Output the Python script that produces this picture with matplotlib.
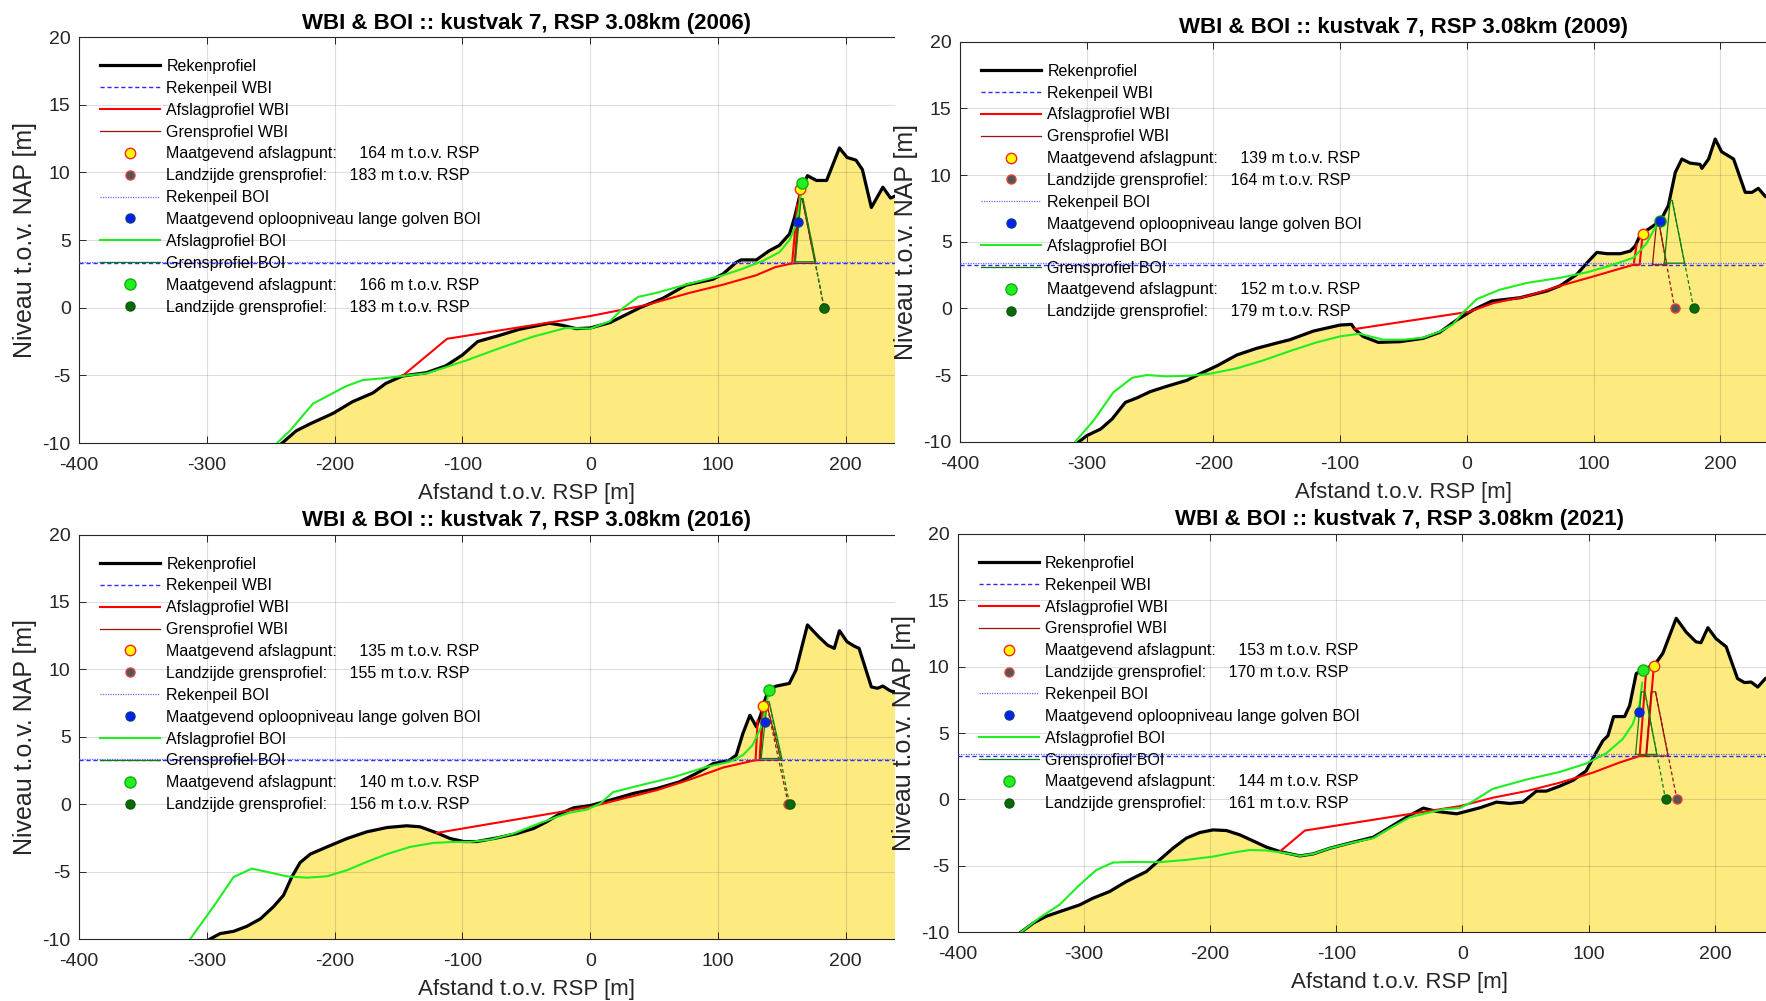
import matplotlib
matplotlib.use('Agg')
import matplotlib.pyplot as plt
from matplotlib.patches import Rectangle

plt.rcParams['font.family'] = ['Liberation Sans', 'DejaVu Sans']
plt.rcParams['axes.unicode_minus'] = False

W, H = 1766, 1001

years = [2006, 2009, 2016, 2021]

# rekenpeil (m NAP)
rp_wbi = [3.27, 3.27, 3.27, 3.27]
rp_boi = [3.39, 3.39, 3.39, 3.39]

# legend numbers (m t.o.v. RSP)
afslag_wbi = [164, 139, 135, 153]
land_wbi = [183, 164, 155, 170]
afslag_boi = [166, 152, 140, 144]
land_boi = [183, 179, 156, 161]

# ---------- 2006 ----------
prof_x_2006 = [-241, -230, -219.5, -201, -186, -170, -160, -147, -128, -113, -100, -88, -71, -55.5, -32, -22,
               -11, 0, 15.6, 39, 57, 75, 96, 104, 114, 118, 130, 140, 148, 156, 160, 165, 170, 177, 185, 195,
               201, 208, 213, 220, 229, 235, 245]
prof_z_2006 = [-10, -9.1, -8.6, -7.8, -6.95, -6.3, -5.6, -5.05, -4.8, -4.3, -3.5, -2.5, -2.05, -1.6, -1.15, -1.3,
               -1.55, -1.5, -1.1, 0.0, 0.7, 1.67, 2.1, 2.5, 3.33, 3.53, 3.53, 4.2, 4.6, 5.45, 6.7, 8.7, 9.75, 9.4,
               9.4, 11.8, 11.1, 10.9, 10.2, 7.4, 8.9, 8.1, 8.5]
wbi_x_2006 = [-147, -112, 0, 44, 78, 104, 130, 145, 158, 162]
wbi_z_2006 = [-5.05, -2.3, -0.62, 0.2, 1.1, 1.7, 2.4, 3.0, 3.27, 7.6]
wbi_ex_x_2006 = [158, 160, 164]
wbi_ex_z_2006 = [3.27, 3.27, 8.8]
gp_wbi_x_2006 = [160, 164.5, 166, 176, 160]
gp_wbi_z_2006 = [3.27, 8.0, 8.0, 3.27, 3.27]
boi_x_2006 = [-245, -235, -217, -191, -178, -160, -147, -128, -113, -97, -71, -45, -19, 0, 15.6, 26, 37.7, 52, 75,
              104, 117, 135, 148, 156, 160.5, 163.6, 165.7]
boi_z_2006 = [-10, -9.1, -7.1, -5.8, -5.35, -5.2, -5.05, -4.85, -4.4, -3.9, -3.0, -2.15, -1.5, -1.55, -1.0, 0, 0.8,
              1.1, 1.7, 2.4, 2.8, 3.45, 4.1, 5.0, 6.0, 7.4, 9.2]
gp_boi_x_2006 = [160.5, 165, 166.5, 176.5, 160.5]
gp_boi_z_2006 = [3.39, 8.06, 8.06, 3.39, 3.39]
pt_afslag_wbi_2006 = (164.4, 8.8)
pt_oploop_2006 = (162.3, 6.3)
pt_afslag_boi_2006 = (165.7, 9.2)

# ---------- 2009 ----------
prof_x_2009 = [-306, -300, -289, -280, -269.5, -260, -250, -237, -221, -210.5, -197, -181.6, -166, -150, -139.6,
               -121, -100, -91, -88.5, -82, -70, -53, -34.6, -21.5, -8.4, 5.3, 19.7, 42, 63, 73.7, 86.8, 94.7,
               102.6, 110.5, 121, 129, 133, 137, 145, 152.6, 159, 164.5, 169.7, 176, 184, 185.5, 190.8, 196, 201,
               210.5, 219.7, 225, 230, 235.5, 245]
prof_z_2009 = [-10, -9.55, -9.05, -8.3, -7.05, -6.7, -6.25, -5.85, -5.4, -4.9, -4.3, -3.5, -3.0, -2.6, -2.35, -1.7,
               -1.25, -1.2, -1.55, -2.1, -2.55, -2.5, -2.25, -1.8, -0.9, -0.1, 0.55, 0.8, 1.3, 1.7, 2.55, 3.4, 4.2,
               4.1, 4.1, 4.3, 4.7, 5.55, 6.05, 6.55, 7.7, 10.2, 11.2, 10.9, 10.8, 10.5, 11.2, 12.7, 11.75, 11.2,
               8.7, 8.7, 9.0, 8.4, 8.0]
wbi_x_2009 = [-88.5, 2, 21, 47, 74, 100, 118, 131.6, 134]
wbi_z_2009 = [-1.55, -0.25, 0.4, 0.9, 1.7, 2.4, 2.9, 3.27, 4.8]
wbi_ex_x_2009 = [131.6, 136.4, 138.7]
wbi_ex_z_2009 = [3.27, 3.27, 5.6]
gp_wbi_x_2009 = [146.5, 149.5, 152, 157.8, 146.5]
gp_wbi_z_2009 = [3.27, 6.2, 6.2, 3.27, 3.27]
boi_x_2009 = [-309, -294.5, -279, -264, -252.5, -237, -218, -202.6, -181.6, -160.6, -139.6, -118.6, -100, -84.5,
              -76.6, -66, -50, -34.6, -21.5, -11, -3, 7.9, 26, 47, 74, 94.7, 113, 131.6, 142, 150, 152.6]
boi_z_2009 = [-10, -8.4, -6.3, -5.2, -5.0, -5.1, -5.05, -4.9, -4.5, -3.9, -3.2, -2.55, -2.1, -1.9, -2.1, -2.35,
              -2.35, -2.2, -1.75, -1.2, -0.3, 0.7, 1.4, 1.9, 2.3, 2.7, 3.2, 3.8, 4.9, 6.3, 6.55]
gp_boi_x_2009 = [155.8, 160.5, 162, 171.8, 155.8]
gp_boi_z_2009 = [3.39, 8.1, 8.1, 3.39, 3.39]
pt_afslag_wbi_2009 = (138.7, 5.6)
pt_oploop_2009 = (152.6, 6.55)
pt_afslag_boi_2009 = (152.6, 6.55)

# ---------- 2016 ----------
prof_x_2016 = [-297.4, -289.6, -279, -268.7, -258, -247.8, -240, -233.5, -227, -219, -206, -190.4, -174.8, -159,
               -143.5, -133, -120, -109.5, -99, -88.7, -73, -57.4, -44.3, -34, -23.5, -13, 0, 15.6, 33.8, 52, 70,
               83, 96, 109, 114.3, 119.5, 125, 130, 133.8, 135, 139.7, 145.5, 155.8, 161, 170, 179, 185.7, 191,
               195, 201, 206.5, 210.4, 220, 224.7, 229, 235, 245]
prof_z_2016 = [-10, -9.6, -9.43, -9.06, -8.5, -7.6, -6.76, -5.4, -4.33, -3.7, -3.17, -2.55, -2.05, -1.73, -1.6,
               -1.68, -2.13, -2.55, -2.77, -2.77, -2.5, -2.18, -1.8, -1.3, -0.7, -0.27, -0.1, 0.3, 0.8, 1.16, 1.66,
               2.28, 3.0, 3.27, 3.64, 5.25, 6.6, 5.74, 6.73, 7.3, 8.5, 8.76, 8.96, 9.95, 13.3, 12.4, 11.8, 11.56,
               12.87, 12.05, 11.73, 11.56, 8.7, 8.6, 8.76, 8.4, 8.2]
wbi_x_2016 = [-120, 0, 26, 52, 78, 104, 117, 129.4, 131]
wbi_z_2016 = [-2.13, -0.2, 0.42, 1.04, 1.83, 2.72, 3.0, 3.27, 6.2]
wbi_ex_x_2016 = [129.4, 132.5, 135]
wbi_ex_z_2016 = [3.27, 3.27, 7.3]
gp_wbi_x_2016 = [133, 136.5, 137.7, 149.3, 133]
gp_wbi_z_2016 = [3.27, 7.6, 7.6, 3.27, 3.27]
boi_x_2016 = [-313, -294.8, -279, -264.8, -253, -237.4, -221.7, -206, -190.4, -174.8, -159, -141, -122.6, -107,
              -94, -78, -60, -39, -26, -15.6, -2.6, 7.8, 18, 39, 65, 91, 109, 119.5, 127, 133.8, 137.7, 139.7]
boi_z_2016 = [-10, -7.6, -5.4, -4.78, -5.02, -5.35, -5.45, -5.35, -4.9, -4.28, -3.7, -3.17, -2.87, -2.8, -2.8,
              -2.62, -2.18, -1.39, -0.94, -0.62, -0.4, 0.05, 0.9, 1.4, 2.0, 2.77, 3.14, 3.64, 4.38, 5.74, 7.2, 8.47]
gp_boi_x_2016 = [133.8, 138.5, 140, 150, 133.8]
gp_boi_z_2016 = [3.39, 7.6, 7.6, 3.39, 3.39]
pt_afslag_wbi_2016 = (135, 7.3)
pt_oploop_2016 = (136.4, 6.1)
pt_afslag_boi_2016 = (139.7, 8.5)

# ---------- 2021 ----------
prof_x_2021 = [-350, -340, -330, -319, -303.4, -293, -279.6, -266.4, -250.5, -240, -229.4, -218.8, -208.2, -197.6,
               -187, -176.5, -165.9, -155.3, -144.7, -128.8, -118.3, -105, -91.8, -70.6, -57.4, -44.2, -31, -20.4,
               -4.5, 13.7, 27, 37.5, 48, 58.6, 66.5, 77, 87.6, 98, 106, 111.3, 115.3, 119.8, 128.5, 132.5, 137.7,
               143, 152, 158.8, 169.4, 177.3, 185, 189, 194.5, 201, 209, 218, 223.5, 228.8, 234, 240, 245]
prof_z_2021 = [-10, -9.3, -8.8, -8.44, -7.94, -7.44, -6.93, -6.18, -5.43, -4.55, -3.67, -2.91, -2.49, -2.29, -2.34,
               -2.66, -3.12, -3.59, -3.92, -4.25, -4.1, -3.67, -3.34, -2.84, -2.09, -1.33, -0.65, -0.9, -1.08,
               -0.63, -0.2, -0.3, -0.2, 0.63, 0.63, 1.0, 1.44, 2.15, 3.54, 4.42, 4.8, 6.24, 6.24, 7.07, 9.47, 9.8,
               10.1, 11.0, 13.64, 12.6, 11.87, 11.8, 12.93, 12.1, 11.5, 9.1, 8.8, 8.84, 8.46, 9.1, 9.3]
wbi_x_2021 = [-144.7, -124.9, -2, 24, 50.7, 77, 103.4, 124.5, 140.4, 145.6]
wbi_z_2021 = [-3.92, -2.34, -0.5, 0.13, 0.63, 1.26, 2.02, 2.78, 3.27, 9.7]
wbi_ex_x_2021 = [140.4, 145.6, 151.7]
wbi_ex_z_2021 = [3.27, 3.27, 10.05]
gp_wbi_x_2021 = [145.6, 149.6, 153, 163, 145.6]
gp_wbi_z_2021 = [3.27, 8.1, 8.1, 3.27, 3.27]
boi_x_2021 = [-350, -335, -319, -303.4, -290, -277, -261, -240, -218.8, -197.6, -181.7, -168.5, -155.3, -139.4,
              -128.8, -118.3, -105, -89, -70.6, -57.4, -41.5, -28.3, -15, -2, 8.4, 24, 50.7, 77, 98, 114, 127,
              135, 140.4, 142.5]
boi_z_2021 = [-10, -8.9, -7.9, -6.43, -5.3, -4.75, -4.7, -4.72, -4.55, -4.3, -4.0, -3.8, -3.84, -4.05, -4.25,
              -4.1, -3.67, -3.29, -2.91, -2.16, -1.33, -1.03, -0.73, -0.65, -0.13, 0.8, 1.5, 2.07, 2.7, 3.48, 4.55,
              5.68, 7.2, 8.8]
gp_boi_x_2021 = [137.2, 141.7, 144.6, 154, 137.2]
gp_boi_z_2021 = [3.39, 8.1, 8.1, 3.39, 3.39]
pt_afslag_wbi_2021 = (151.7, 10.05)
pt_oploop_2021 = (140, 6.57)
pt_afslag_boi_2021 = (143, 9.77)

panels = {
    2006: dict(px=prof_x_2006, pz=prof_z_2006, wx=wbi_x_2006, wz=wbi_z_2006, ex=wbi_ex_x_2006, ez=wbi_ex_z_2006,
               gwx=gp_wbi_x_2006, gwz=gp_wbi_z_2006, bx=boi_x_2006, bz=boi_z_2006, gbx=gp_boi_x_2006,
               gbz=gp_boi_z_2006, aw=pt_afslag_wbi_2006, op=pt_oploop_2006, ab=pt_afslag_boi_2006),
    2009: dict(px=prof_x_2009, pz=prof_z_2009, wx=wbi_x_2009, wz=wbi_z_2009, ex=wbi_ex_x_2009, ez=wbi_ex_z_2009,
               gwx=gp_wbi_x_2009, gwz=gp_wbi_z_2009, bx=boi_x_2009, bz=boi_z_2009, gbx=gp_boi_x_2009,
               gbz=gp_boi_z_2009, aw=pt_afslag_wbi_2009, op=pt_oploop_2009, ab=pt_afslag_boi_2009),
    2016: dict(px=prof_x_2016, pz=prof_z_2016, wx=wbi_x_2016, wz=wbi_z_2016, ex=wbi_ex_x_2016, ez=wbi_ex_z_2016,
               gwx=gp_wbi_x_2016, gwz=gp_wbi_z_2016, bx=boi_x_2016, bz=boi_z_2016, gbx=gp_boi_x_2016,
               gbz=gp_boi_z_2016, aw=pt_afslag_wbi_2016, op=pt_oploop_2016, ab=pt_afslag_boi_2016),
    2021: dict(px=prof_x_2021, pz=prof_z_2021, wx=wbi_x_2021, wz=wbi_z_2021, ex=wbi_ex_x_2021, ez=wbi_ex_z_2021,
               gwx=gp_wbi_x_2021, gwz=gp_wbi_z_2021, bx=boi_x_2021, bz=boi_z_2021, gbx=gp_boi_x_2021,
               gbz=gp_boi_z_2021, aw=pt_afslag_wbi_2021, op=pt_oploop_2021, ab=pt_afslag_boi_2021),
}

# axes boxes in pixels: left, right, top, bottom  (xlim -400..300, ylim -10..20)
boxes = [(79, 973.6, 37, 443), (960, 1847, 41.7, 441.7), (79, 973.6, 534.6, 939), (957.7, 1841, 533.8, 932.3)]

yellow = '#fdeb80'
red = '#ff0000'
green = '#1fee1f'
dred = '#9a1010'
dgreen = '#0a800a'
gray = '#262626'

fig = plt.figure(figsize=(W / 100, H / 100), dpi=100)
# the right-hand plots were pasted over the right part of the left-hand ones
fig.add_artist(Rectangle((895 / W, 0), 1 - 895 / W, 1, transform=fig.transFigure,
                         facecolor='white', edgecolor='none', zorder=1))

for i, yr in enumerate(years):
    d = panels[yr]
    l, r, t, b = boxes[i]
    ax = fig.add_axes([l / W, 1 - b / H, (r - l) / W, (b - t) / H])
    ax.set_zorder(0 if i % 2 == 0 else 2)
    ax.set_facecolor('white')

    ax.fill_between(d['px'], d['pz'], -10, color=yellow, lw=0, zorder=1)
    ax.plot(d['px'], d['pz'], color='k', lw=2.3, label='Rekenprofiel', zorder=3)
    ax.axhline(rp_wbi[i], color='#2b2bff', lw=1.0, ls=(0, (3, 2)), label='Rekenpeil WBI', zorder=3)
    ax.plot(d['wx'], d['wz'], color=red, lw=1.5, label='Afslagprofiel WBI', zorder=3)
    ax.plot(d['ex'], d['ez'], color=red, lw=1.5, zorder=3)
    ax.plot(d['gwx'], d['gwz'], color=dred, lw=0.9, label='Grensprofiel WBI', zorder=3)
    ax.plot([d['gwx'][2], land_wbi[i]], [d['gwz'][2], 0], color=dred, lw=0.9, ls=(0, (3, 2)), zorder=3)
    ax.plot(*d['aw'], 'o', ms=7.5, mfc='#ffff00', mec='#ff2020', mew=1.0, ls='none',
            label=f'Maatgevend afslagpunt:     {afslag_wbi[i]} m t.o.v. RSP', zorder=6)
    ax.plot(land_wbi[i], 0, 'o', ms=6.5, mfc='#555555', mec='#e04040', mew=1.0, ls='none',
            label=f'Landzijde grensprofiel:     {land_wbi[i]} m t.o.v. RSP', zorder=5)
    ax.axhline(rp_boi[i], color='#6a6aff', lw=0.9, ls=(0, (1, 1)), label='Rekenpeil BOI', zorder=3)
    ax.plot(*d['op'], 'o', ms=6.5, mfc='#0022ee', mec='#0a3a8a', mew=1.0, ls='none',
            label='Maatgevend oploopniveau lange golven BOI', zorder=7)
    ax.plot(d['bx'], d['bz'], color=green, lw=1.5, label='Afslagprofiel BOI', zorder=4)
    ax.plot(d['gbx'], d['gbz'], color=dgreen, lw=0.9, label='Grensprofiel BOI', zorder=4)
    ax.plot([d['gbx'][2], land_boi[i]], [d['gbz'][2], 0], color=dgreen, lw=0.9, ls=(0, (3, 2)), zorder=4)
    ax.plot(*d['ab'], 'o', ms=8, mfc='#22ee22', mec='#10b010', mew=1.0, ls='none',
            label=f'Maatgevend afslagpunt:     {afslag_boi[i]} m t.o.v. RSP', zorder=6)
    ax.plot(land_boi[i], 0, 'o', ms=6.5, mfc='#0a6a0a', mec='#0a5a0a', mew=1.0, ls='none',
            label=f'Landzijde grensprofiel:     {land_boi[i]} m t.o.v. RSP', zorder=6)

    ax.set_xlim(-400, 300)
    ax.set_ylim(-10, 20)
    ax.set_xticks(range(-400, 201, 100))
    ax.set_yticks(range(-10, 21, 5))
    ax.grid(True, color=gray, alpha=0.15, lw=0.8)
    ax.set_axisbelow('line')
    ax.tick_params(direction='in', length=5, width=0.7, colors=gray, labelsize=14,
                   top=True, right=True, labelcolor='#262626')
    ax.tick_params(axis='x', pad=10)
    ax.tick_params(axis='y', pad=6)
    for s in ax.spines.values():
        s.set_color(gray)
        s.set_linewidth(0.8)
    ax.set_xlabel('Afstand t.o.v. RSP [m]', fontsize=16, labelpad=6.5, color='#262626')
    ax.set_ylabel('Niveau t.o.v. NAP [m]', fontsize=18, labelpad=4, color='#262626')
    ax.set_title(f'WBI & BOI :: kustvak 7, RSP 3.08km ({yr})', fontsize=16, fontweight='bold', pad=6)

    axw = r - l
    axh = b - t
    ax.legend(loc='upper left', bbox_to_anchor=(21 / axw, 1 - 22 / axh), frameon=False, fontsize=11.5,
              handlelength=3.75, handletextpad=0.4, labelspacing=0.43, borderpad=0, borderaxespad=0)

fig.savefig('out.png', dpi=100)
